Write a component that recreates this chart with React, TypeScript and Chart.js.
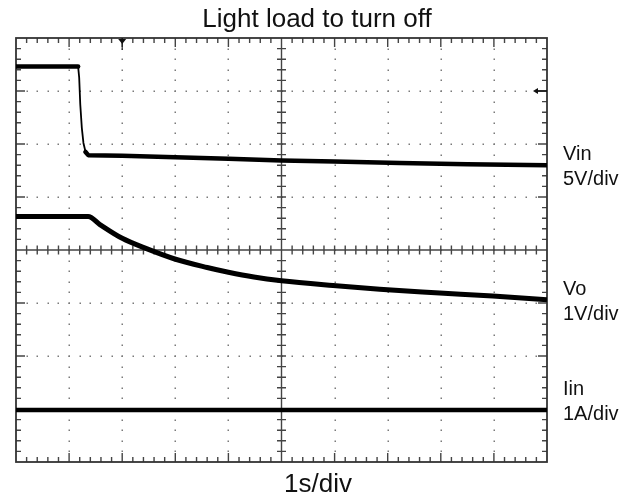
import React, { useEffect, useRef } from "react";
import { Chart, registerables } from "chart.js";

Chart.register(...registerables);

// ---- Data (divisions: x 0..10 at 1 s/div, y 0..8 from the bottom) ----
const titleText = "Light load to turn off";
const xAxisLabel = "1s/div";

const vinX = [0, 1.17, 1.19, 1.21, 1.24, 1.27, 1.31, 1.36, 2.0, 3.0, 4.0, 5.0, 6.0, 7.23, 8.5, 10];
const vinY = [7.46, 7.46, 7.25, 6.75, 6.3, 6.02, 5.85, 5.79, 5.78, 5.75, 5.72, 5.69, 5.67, 5.64, 5.62, 5.6];

const voX = [0, 1.36, 1.58, 2.0, 2.47, 2.99, 3.6, 4.0, 4.48, 5.0, 5.97, 6.85, 7.98, 8.98, 10];
const voY = [4.63, 4.63, 4.48, 4.22, 4.02, 3.83, 3.67, 3.58, 3.49, 3.42, 3.33, 3.26, 3.19, 3.13, 3.06];

const iinX = [0, 2, 4, 6, 8, 10];
const iinY = [0.98, 0.98, 0.98, 0.98, 0.98, 0.98];

const channelNames = ["Vin", "Vo", "Iin"];
const channelScales = ["5V/div", "1V/div", "1A/div"];
const channelLabelBaselines = [160, 295, 395]; // baseline of name line

const xDivs = 10;
const yDivs = 8;
const minorPerDiv = 5;
const triggerX = 2; // division of trigger marker
const levelArrowY = 7; // division of level arrow on right edge

const toPoints = (xs: number[], ys: number[]) => xs.map((x, i) => ({ x, y: ys[i] }));

const scopePlugin = {
  id: "scopeGrid",
  beforeDatasetsDraw(chart: any) {
    const ctx = chart.ctx as CanvasRenderingContext2D;
    const xs = chart.scales.x;
    const ys = chart.scales.y;
    const { left, right, top, bottom } = chart.chartArea;
    ctx.save();
    // dotted grid
    ctx.fillStyle = "#7a7a7a";
    for (let i = 1; i < xDivs; i++) {
      if (i === xDivs / 2) continue;
      const px = Math.round(xs.getPixelForValue(i));
      for (let j = 1; j < yDivs * minorPerDiv; j++) {
        const py = Math.round(ys.getPixelForValue(j / minorPerDiv));
        ctx.fillRect(px - 0.5, py - 0.5, 1.5, 1.5);
      }
    }
    for (let i = 1; i < yDivs; i++) {
      if (i === yDivs / 2) continue;
      const py = Math.round(ys.getPixelForValue(i));
      for (let j = 1; j < xDivs * minorPerDiv; j++) {
        const px = Math.round(xs.getPixelForValue(j / minorPerDiv));
        ctx.fillRect(px - 0.5, py - 0.5, 1.5, 1.5);
      }
    }
    // centre cross
    ctx.strokeStyle = "#444";
    ctx.lineWidth = 1.4;
    const cx = xs.getPixelForValue(xDivs / 2);
    const cy = ys.getPixelForValue(yDivs / 2);
    ctx.beginPath();
    ctx.moveTo(cx, top);
    ctx.lineTo(cx, bottom);
    ctx.moveTo(left, cy);
    ctx.lineTo(right, cy);
    for (let j = 1; j < yDivs * minorPerDiv; j++) {
      const py = ys.getPixelForValue(j / minorPerDiv);
      ctx.moveTo(cx - 4.5, py);
      ctx.lineTo(cx + 4.5, py);
    }
    for (let j = 1; j < xDivs * minorPerDiv; j++) {
      const px = xs.getPixelForValue(j / minorPerDiv);
      ctx.moveTo(px, cy - 4.5);
      ctx.lineTo(px, cy + 4.5);
    }
    // edge ticks
    for (let j = 1; j < xDivs * minorPerDiv; j++) {
      const px = xs.getPixelForValue(j / minorPerDiv);
      const len = j % minorPerDiv === 0 ? 9 : 5;
      ctx.moveTo(px, top);
      ctx.lineTo(px, top + len);
      ctx.moveTo(px, bottom);
      ctx.lineTo(px, bottom - len);
    }
    for (let j = 1; j < yDivs * minorPerDiv; j++) {
      const py = ys.getPixelForValue(j / minorPerDiv);
      const len = j % minorPerDiv === 0 ? 9 : 5;
      ctx.moveTo(left, py);
      ctx.lineTo(left + len, py);
      ctx.moveTo(right, py);
      ctx.lineTo(right - len, py);
    }
    ctx.stroke();
    // frame
    ctx.strokeStyle = "#333";
    ctx.lineWidth = 1.8;
    ctx.strokeRect(left, top, right - left, bottom - top);
    // trigger marker
    const tx = xs.getPixelForValue(triggerX);
    ctx.fillStyle = "#111";
    ctx.beginPath();
    ctx.moveTo(tx - 4, top + 1);
    ctx.lineTo(tx + 4, top + 1);
    ctx.lineTo(tx, top + 6);
    ctx.closePath();
    ctx.fill();
    ctx.lineWidth = 1;
    ctx.strokeStyle = "#111";
    ctx.beginPath();
    ctx.moveTo(tx, top);
    ctx.lineTo(tx, top + 12);
    ctx.stroke();
    // level arrow on right edge
    const ay = ys.getPixelForValue(levelArrowY);
    ctx.beginPath();
    ctx.moveTo(right - 14, ay);
    ctx.lineTo(right - 9, ay - 3);
    ctx.lineTo(right - 9, ay + 3);
    ctx.closePath();
    ctx.fill();
    ctx.lineWidth = 1.5;
    ctx.beginPath();
    ctx.moveTo(right - 10, ay);
    ctx.lineTo(right, ay);
    ctx.stroke();
    ctx.restore();
  },
  afterDraw(chart: any) {
    const ctx = chart.ctx as CanvasRenderingContext2D;
    ctx.save();
    ctx.fillStyle = "#111";
    ctx.textBaseline = "alphabetic";
    ctx.textAlign = "center";
    ctx.font = '26px "Liberation Sans", Arial, sans-serif';
    ctx.fillText(titleText, 317, 27);
    ctx.fillText(xAxisLabel, 318, 492);
    ctx.textAlign = "left";
    ctx.font = '20px "Liberation Sans", Arial, sans-serif';
    const lx = chart.chartArea.right + 16;
    channelNames.forEach((n, i) => {
      const b = channelLabelBaselines[i];
      ctx.fillText(n, lx, b);
      ctx.fillText(channelScales[i], lx, b + 25);
    });
    ctx.restore();
  },
};

const thinSteep = (w: number) => (c: any) => {
  const dx = Math.abs(c.p1.x - c.p0.x);
  const dy = Math.abs(c.p1.y - c.p0.y);
  return dy > 2.5 * dx && dy > 6 ? 1.8 : w;
};

export default function App() {
  const canvasRef = useRef<HTMLCanvasElement | null>(null);
  useEffect(() => {
    document.body.style.margin = "0";
    const canvas = canvasRef.current;
    if (!canvas) return;
    const chart = new Chart(canvas, {
      type: "line",
      data: {
        datasets: [
          {
            label: "Vin",
            data: toPoints(vinX, vinY),
            borderColor: "#000",
            borderWidth: 4.5,
            borderCapStyle: "round",
            borderJoinStyle: "round",
            pointRadius: 0,
            tension: 0,
            segment: { borderWidth: thinSteep(4.5) },
          },
          {
            label: "Vo",
            data: toPoints(voX, voY),
            borderColor: "#000",
            borderWidth: 5,
            borderJoinStyle: "round",
            pointRadius: 0,
            cubicInterpolationMode: "monotone",
          },
          {
            label: "Iin",
            data: toPoints(iinX, iinY),
            borderColor: "#000",
            borderWidth: 4.5,
            pointRadius: 0,
          },
        ],
      },
      options: {
        animation: false,
        responsive: false,
        layout: { padding: { left: 16, right: 92, top: 38, bottom: 40 } },
        plugins: { legend: { display: false }, tooltip: { enabled: false }, title: { display: false } },
        scales: {
          x: { type: "linear", min: 0, max: xDivs, display: false },
          y: { type: "linear", min: 0, max: yDivs, display: false },
        },
      },
      plugins: [scopePlugin],
    } as any);
    return () => chart.destroy();
  }, []);
  return (
    <div style={{ width: 639, height: 502, background: "#fff" }}>
      <canvas ref={canvasRef} width={639} height={502} />
    </div>
  );
}
